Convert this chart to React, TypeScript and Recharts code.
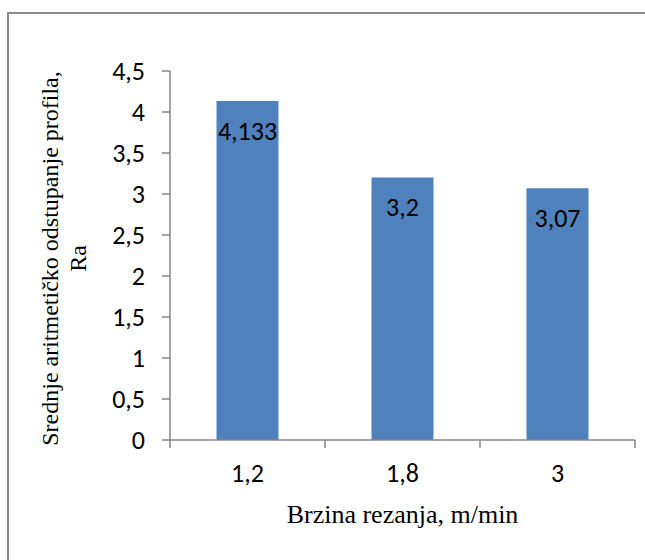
import React from 'react';
import { BarChart, Bar, XAxis, YAxis, LabelList } from 'recharts';

const categories = ['1,2', '1,8', '3'];
const raValues = [4.133, 3.2, 3.07];
const yTicks = [0, 0.5, 1, 1.5, 2, 2.5, 3, 3.5, 4, 4.5];
const xTitle = 'Brzina rezanja, m/min';
const yTitleLines = ['Srednje aritmetičko odstupanje profila,', 'Ra'];

const data = categories.map((c, i) => ({ name: c, ra: raValues[i] }));

const W = 645;
const H = 560;
const MARGIN = { top: 71, right: 10, bottom: 40, left: 0 };
const Y_AXIS_W = 170;
const X_AXIS_H = 80;
const PLOT_W = W - MARGIN.left - MARGIN.right - Y_AXIS_W;
const BAND = PLOT_W / categories.length;

const TICK_FONT = '"Carlito", "Lato", sans-serif';
const SERIF = '"Liberation Serif", "Times New Roman", serif';
const AXIS_COLOR = '#868686';
const FS = 26;

const fmt = (v: number) => String(v).replace('.', ',');

const XTick = (props: any) => {
  const { x, y, payload, index } = props;
  const last = index === categories.length - 1;
  return (
    <g>
      <line x1={x - BAND / 2} x2={x - BAND / 2} y1={y} y2={y + 8} stroke={AXIS_COLOR} strokeWidth={1.5} />
      {last && (
        <line x1={x + BAND / 2} x2={x + BAND / 2} y1={y} y2={y + 8} stroke={AXIS_COLOR} strokeWidth={1.5} />
      )}
      <text x={x} y={y + 42} textAnchor="middle" style={{ fontFamily: TICK_FONT, fontSize: FS }} fill="#000">
        {payload.value}
      </text>
    </g>
  );
};

const XTitle = (props: any) => {
  const vb = props.viewBox;
  return (
    <text x={vb.x + vb.width / 2} y={523} textAnchor="middle" style={{ fontFamily: SERIF, fontSize: 26 }} fill="#000">
      {xTitle}
    </text>
  );
};

const YTitle = (props: any) => {
  const vb = props.viewBox;
  const cy = vb.y + vb.height / 2 + 3;
  return (
    <g>
      <text
        x={58}
        y={cy}
        transform={`rotate(-90, 58, ${cy})`}
        textAnchor="middle"
        style={{ fontFamily: SERIF, fontSize: 24 }}
        fill="#000"
      >
        {yTitleLines[0]}
      </text>
      <text
        x={86}
        y={cy}
        transform={`rotate(-90, 86, ${cy})`}
        textAnchor="middle"
        style={{ fontFamily: SERIF, fontSize: 24 }}
        fill="#000"
      >
        {yTitleLines[1]}
      </text>
    </g>
  );
};

export default function App() {
  return (
    <div style={{ position: 'absolute', left: 0, top: 0, width: W, height: H, overflow: 'hidden', background: '#fff' }}>
      <div
        style={{
          position: 'absolute',
          left: 7,
          top: 12,
          width: 800,
          height: 800,
          border: '2px solid #8c8c8c',
          boxSizing: 'border-box',
        }}
      />
      <div style={{ position: 'absolute', left: 0, top: 0 }}>
        <BarChart width={W} height={H} data={data} margin={MARGIN} barCategoryGap="30%">
          <XAxis
            dataKey="name"
            height={X_AXIS_H}
            axisLine={{ stroke: AXIS_COLOR, strokeWidth: 1.5 }}
            tickLine={false}
            tickSize={0}
            tickMargin={0}
            tick={<XTick />}
            interval={0}
            label={<XTitle />}
          />
          <YAxis
            width={Y_AXIS_W}
            domain={[0, 4.5]}
            ticks={yTicks}
            interval={0}
            tickFormatter={fmt}
            axisLine={{ stroke: AXIS_COLOR, strokeWidth: 1.5 }}
            tickLine={{ stroke: AXIS_COLOR, strokeWidth: 1.5 }}
            tickSize={8}
            tickMargin={17}
            tick={{ fill: '#000', fontSize: FS, fontFamily: TICK_FONT }}
            label={<YTitle />}
          />
          <Bar dataKey="ra" fill="#4F81BD" isAnimationActive={false}>
            <LabelList
              dataKey="ra"
              position="insideTop"
              offset={20}
              formatter={(v: any) => fmt(v)}
              fill="#000"
              fontSize={FS}
              fontFamily={TICK_FONT}
            />
          </Bar>
        </BarChart>
      </div>
    </div>
  );
}
